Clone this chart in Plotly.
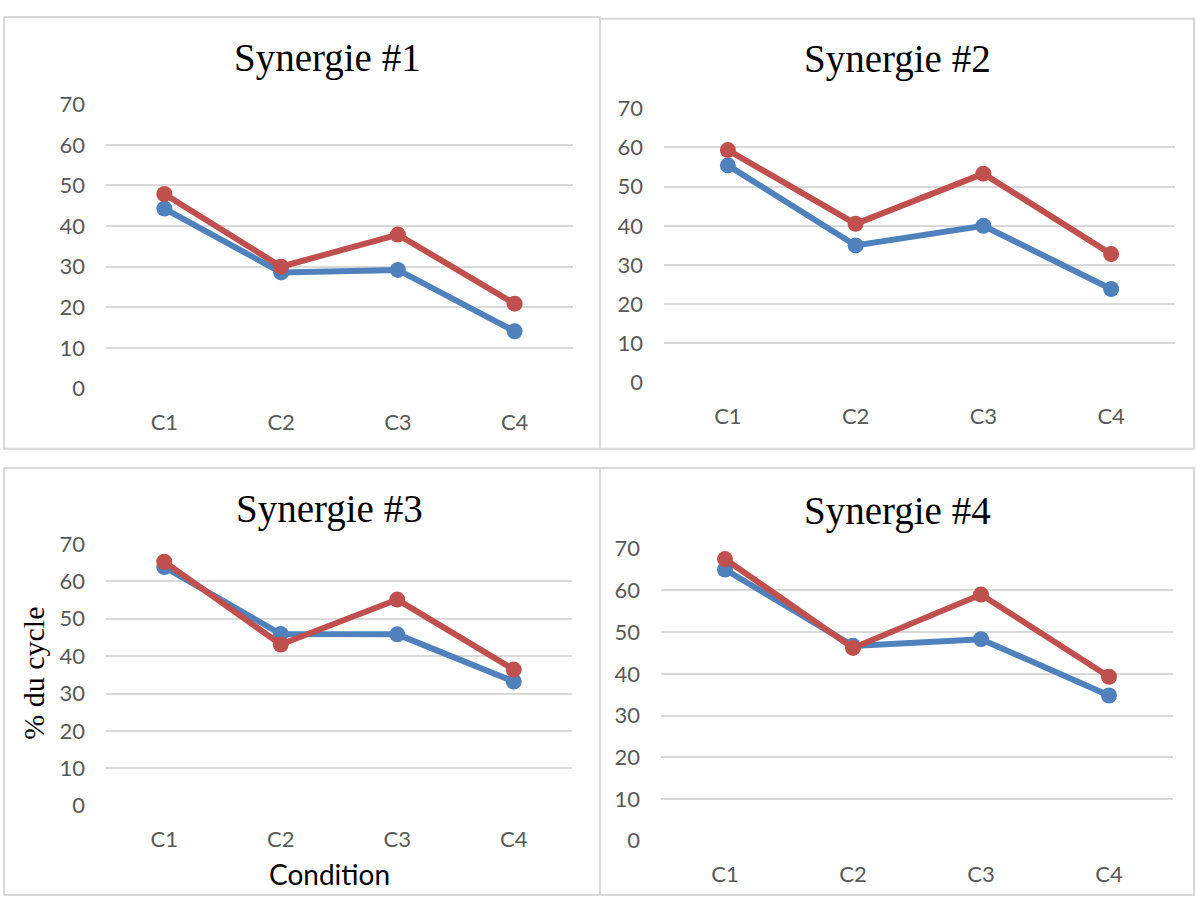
import plotly.graph_objects as go

W, H = 1196, 910

conditions = ["C1", "C2", "C3", "C4"]
titles = ["Synergie #1", "Synergie #2", "Synergie #3", "Synergie #4"]

# blue series per synergy
blue_s1 = [44.3, 28.6, 29.2, 14.1]
blue_s2 = [55.4, 35.0, 40.0, 23.9]
blue_s3 = [63.8, 45.9, 45.8, 33.2]
blue_s4 = [65.0, 46.7, 48.3, 34.8]

# red series per synergy
red_s1 = [47.9, 30.0, 37.9, 20.9]
red_s2 = [59.3, 40.5, 53.3, 32.8]
red_s3 = [65.2, 43.1, 55.1, 36.4]
red_s4 = [67.5, 46.2, 59.0, 39.3]

y_ticks = [0, 10, 20, 30, 40, 50, 60, 70]

BLUE = "#4F81BD"
RED = "#C0504D"
GRID = "#D9D9D9"
TICK = "#595959"


def fx(px):
    return px / W


def fy(py):
    return 1 - py / H


# pixels: plot area (x0, x1, y_top, y_bottom), border (x0, y0, x1, y1), title centre
panels = [
    ((106, 573, 93, 386), (4, 3, 600, 448), (327, 45)),
    ((664, 1175, 97, 380), (600, 5, 1194, 448), (897, 46)),
    ((106, 572, 546, 816), (4, 468, 600, 908), (329, 510)),
    ((661, 1173, 551, 852), (600, 468, 1194, 908), (897, 512)),
]

blues = [blue_s1, blue_s2, blue_s3, blue_s4]
reds = [red_s1, red_s2, red_s3, red_s4]

fig = go.Figure()
shapes = []
annotations = []

for i, ((px0, px1, py0, py1), border, (tx, ty)) in enumerate(panels):
    n = "" if i == 0 else str(i + 1)
    xa, ya = "x" + n, "y" + n

    for vals, col in ((blues[i], BLUE), (reds[i], RED)):
        fig.add_trace(go.Scatter(
            x=conditions, y=vals, xaxis=xa, yaxis=ya,
            mode="lines+markers",
            line=dict(color=col, width=6),
            marker=dict(color=col, size=16),
            showlegend=False,
        ))

    fig.layout["xaxis" + n] = dict(
        domain=[fx(px0), fx(px1)], anchor=ya,
        type="category", range=[-0.5, 3.5],
        showgrid=False, showline=False, zeroline=False,
        ticks="", ticklabelstandoff=18,
        tickfont=dict(family="Lato", size=22, color=TICK),
    )
    fig.layout["yaxis" + n] = dict(
        domain=[fy(py1), fy(py0)], anchor=xa,
        range=[0, 70], tickvals=y_ticks,
        showgrid=True, gridcolor=GRID, gridwidth=2,
        zeroline=False, showline=False, ticks="",
        ticklabelstandoff=20,
        tickfont=dict(family="Lato", size=22, color=TICK),
    )

    bx0, by0, bx1, by1 = border
    shapes.append(dict(
        type="rect", xref="paper", yref="paper",
        x0=fx(bx0), x1=fx(bx1), y0=fy(by1), y1=fy(by0),
        line=dict(color=GRID, width=2), fillcolor="rgba(0,0,0,0)",
    ))
    annotations.append(dict(
        text=titles[i], xref="paper", yref="paper",
        x=fx(tx), y=fy(ty),
        xanchor="center", yanchor="middle", showarrow=False,
        font=dict(family="Liberation Serif", size=39, color="#000000"),
    ))

annotations.append(dict(
    text="% du cycle", xref="paper", yref="paper",
    x=fx(34), y=fy(680), textangle=-90,
    xanchor="center", yanchor="middle", showarrow=False,
    font=dict(family="Liberation Serif", size=30, color="#000000"),
))
annotations.append(dict(
    text="Condition", xref="paper", yref="paper",
    x=fx(329), y=fy(886),
    xanchor="center", yanchor="middle", showarrow=False,
    font=dict(family="Lato", size=28, color="#000000"),
))

fig.update_layout(
    width=W, height=H,
    margin=dict(l=0, r=0, t=0, b=0),
    paper_bgcolor="white", plot_bgcolor="white",
    shapes=shapes, annotations=annotations,
)

# drop the browser's default 8px body margin so the figure fills the window
fig.write_html(
    "out.html",
    config={"displayModeBar": False},
    post_script="document.body.style.margin = '0';",
)
